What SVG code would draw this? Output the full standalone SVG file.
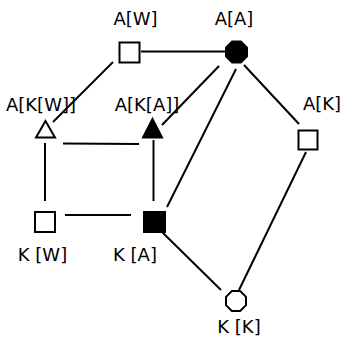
<svg xmlns="http://www.w3.org/2000/svg" width="342" height="344" viewBox="0 0 342 344">
<style>
.lbl{font-family:"DejaVu Sans",Verdana,sans-serif;font-size:18px;fill:#000;text-anchor:middle}
.edge{stroke:#000;stroke-width:2;fill:none}
.open{fill:#fff;stroke:#000;stroke-width:2}
.solid{fill:#000;stroke:#000;stroke-width:2}
</style>
<rect width="342" height="344" fill="#fff"/>
<g id="connectors">
<line class="edge" x1="141" y1="51.5" x2="226" y2="51.5"/>
<line class="edge" x1="113" y1="62" x2="53" y2="122"/>
<line class="edge" x1="219" y1="66" x2="162" y2="125"/>
<line class="edge" x1="236" y1="69" x2="167" y2="207"/>
<line class="edge" x1="244" y1="65" x2="299" y2="124"/>
<line class="edge" x1="306" y1="152" x2="239" y2="290"/>
<line class="edge" x1="162" y1="232" x2="221" y2="290"/>
<line class="edge" x1="63" y1="143.5" x2="139" y2="144"/>
<line class="edge" x1="45" y1="143" x2="45" y2="201"/>
<line class="edge" x1="153.5" y1="140" x2="153.5" y2="201"/>
<line class="edge" x1="65" y1="215" x2="131" y2="215"/>
</g>
<g id="AW">
<rect class="open" x="119.5" y="42.5" width="20" height="20"/>
<text class="lbl" x="135.5" y="25">A[W]</text>
</g>
<g id="AA">
<polygon class="solid" points="232.15,41.5 240.85,41.5 247,47.65 247,56.35 240.85,62.5 232.15,62.5 226,56.35 226,47.65"/>
<text class="lbl" x="234" y="25">A[A]</text>
</g>
<g id="AK">
<rect class="open" x="298.5" y="130.5" width="19" height="19"/>
<text class="lbl" x="322" y="110">A[K]</text>
</g>
<g id="AKW">
<polygon class="open" points="45.5,121 55,137.5 36,137.5"/>
<text class="lbl" x="41" y="111">A[K[W]]</text>
</g>
<g id="AKA">
<polygon class="solid" points="152.5,119 162,137.5 143,137.5"/>
<text class="lbl" x="147" y="111">A[K[A]]</text>
</g>
<g id="KW">
<rect class="open" x="35" y="212" width="20" height="20"/>
<text class="lbl" x="42.5" y="261">K [W]</text>
</g>
<g id="KA">
<rect class="solid" x="144" y="212" width="21" height="20"/>
<text class="lbl" x="135" y="261">K [A]</text>
</g>
<g id="KK">
<polygon class="open" points="231.86,291 240.14,291 246,296.86 246,305.14 240.14,311 231.86,311 226,305.14 226,296.86"/>
<text class="lbl" x="239" y="333">K [K]</text>
</g>
</svg>
